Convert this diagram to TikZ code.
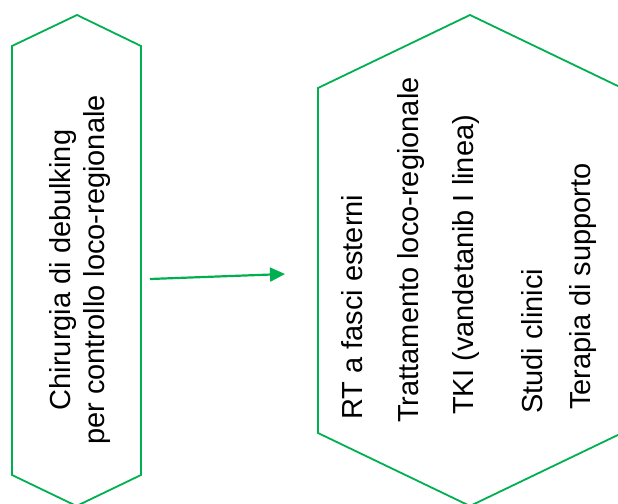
\documentclass[tikz,border=0pt]{standalone}
\usepackage{fontspec}
\setmainfont{Liberation Sans}
\usetikzlibrary{arrows.meta}
\definecolor{hexgreen}{RGB}{0,176,80}
\tikzset{
  hexline/.style={draw=hexgreen, line width=1.8pt, line join=miter},
  txt/.style={rotate=90, anchor=base west, inner sep=0pt, font=\fontsize{29}{34}\selectfont, text=black},
  ctxt/.style={rotate=90, anchor=center, inner sep=0pt, align=center, font=\fontsize{29}{34}\selectfont, text=black},
  link/.style={draw=hexgreen, line width=2.2pt, -{Triangle[length=15pt,width=14pt]}}
}
\begin{document}
\begin{tikzpicture}[x=1pt,y=-1pt]
\useasboundingbox (0,0) rectangle (618,503);
\clip (0,0) rectangle (618,503);
% left hexagon
\draw[hexline] (12,46) -- (77,15) -- (141,46) -- (141,475) -- (76.5,506) -- (12,475) -- cycle;
% right hexagon
\draw[hexline] (318,88) -- (470,15) -- (622,88) -- (622,433) -- (470,506) -- (318,433) -- cycle;
% left text
\node[ctxt] (left) at (80,270) {Chirurgia di debulking\\per controllo loco-regionale};
% right text
\node[txt] (l1) at (362,420) {RT a fasci esterni};
\node[txt] (l2) at (418,423) {Trattamento loco-regionale};
\node[txt] (l3) at (473,415) {TKI (vandetanib I linea)};
\node[txt] (l4) at (542,414) {Studi clinici};
\node[txt] (l5) at (590,410) {Terapia di supporto};
% arrow
\coordinate (as) at (150,279);
\coordinate (ae) at (285,274);
\draw[link] (as) -- (ae);
\end{tikzpicture}
\end{document}
